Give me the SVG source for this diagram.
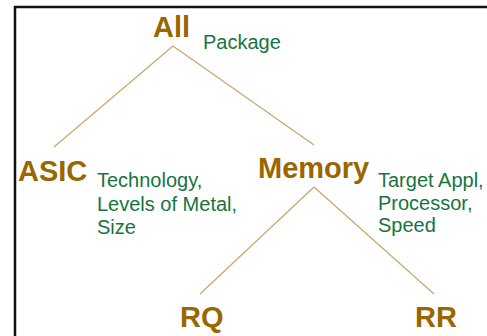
<svg xmlns="http://www.w3.org/2000/svg" width="487" height="336" viewBox="0 0 487 336">
<style>
.n{font-family:"Liberation Sans",Arial,sans-serif;font-weight:bold;font-size:29px;fill:#996600}
.d{font-family:"Liberation Sans",Arial,sans-serif;font-size:20px;fill:#16743F}
.c line{stroke:#C9A56B;stroke-width:1.2}
</style>
<rect x="0" y="0" width="487" height="336" fill="#fff"/>
<rect x="15" y="7" width="490" height="340" fill="none" stroke="#111" stroke-width="2.5"/>
<g class="c" id="connectors">
<line x1="173" y1="46" x2="54" y2="147"/>
<line x1="173" y1="46" x2="314" y2="145"/>
<line x1="314" y1="187" x2="200" y2="294"/>
<line x1="314" y1="187" x2="434" y2="294"/>
</g>
<g id="all"><text class="n" x="153" y="37">All</text><text class="d" x="203" y="49">Package</text></g>
<g id="asic"><text class="n" x="18" y="181">ASIC</text><text class="d"><tspan x="97" y="187">Technology,</tspan><tspan x="97" y="210.5">Levels of Metal,</tspan><tspan x="97" y="234">Size</tspan></text></g>
<g id="memory"><text class="n" x="258" y="178">Memory</text><text class="d"><tspan x="378" y="187">Target Appl,</tspan><tspan x="378" y="209.5">Processor,</tspan><tspan x="378" y="232">Speed</tspan></text></g>
<g id="rq"><text class="n" x="180" y="327">RQ</text></g>
<g id="rr"><text class="n" x="415" y="327">RR</text></g>
</svg>
